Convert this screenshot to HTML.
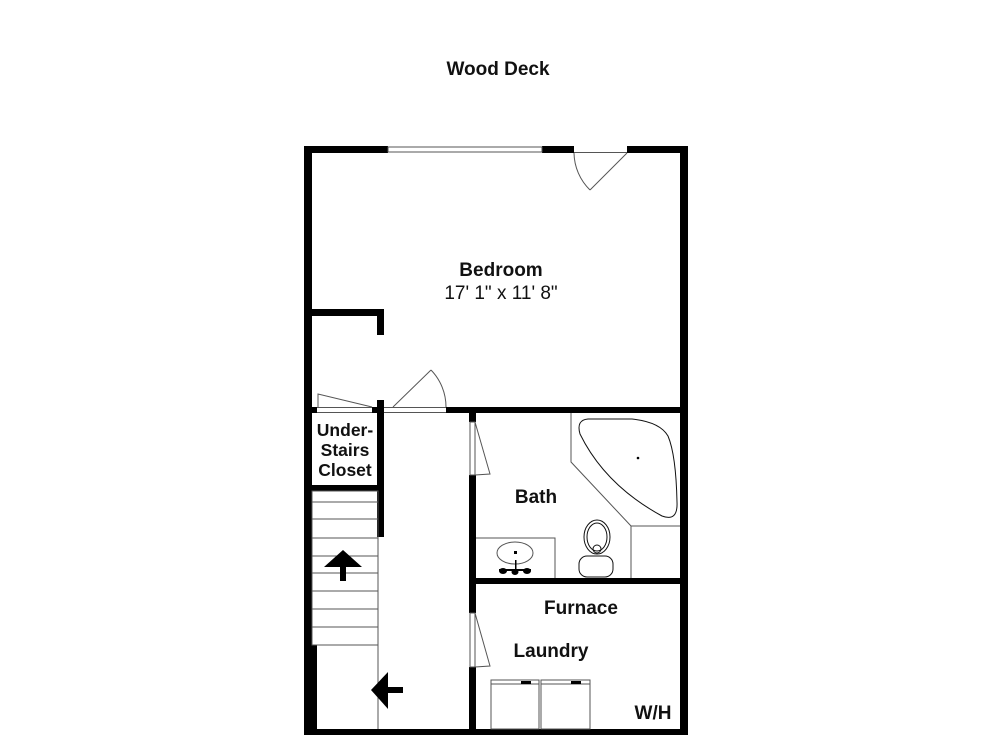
<!DOCTYPE html>
<html><head><meta charset="utf-8"><style>
html,body{margin:0;padding:0;background:#fff;}
svg{display:block;}
text{font-family:"Liberation Sans",Arial,sans-serif;fill:#111;}
.b{font-weight:bold;font-size:19px;}
</style></head><body>
<svg width="1000" height="750" viewBox="0 0 1000 750" xmlns="http://www.w3.org/2000/svg">
<rect width="1000" height="750" fill="#fff"/>
<text class="b" x="498" y="75" text-anchor="middle">Wood Deck</text>
<g fill="#000">
<rect x="304" y="146" width="8" height="589"/>
<rect x="680" y="146" width="8" height="589"/>
<rect x="304" y="729" width="384" height="6"/>
<rect x="304" y="146" width="84" height="7"/>
<rect x="542" y="146" width="32" height="7"/>
<rect x="627" y="146" width="61" height="7"/>
<rect x="312" y="309" width="72" height="7"/>
<rect x="377" y="309" width="7" height="26"/>
<rect x="304" y="407" width="13" height="6"/>
<rect x="372" y="407" width="12" height="6"/>
<rect x="377" y="400" width="7" height="137"/>
<rect x="446" y="407" width="242" height="6"/>
<rect x="312" y="485" width="72" height="6"/>
<rect x="304" y="645" width="13" height="90"/>
<rect x="469" y="407" width="7" height="15"/>
<rect x="469" y="475" width="7" height="138"/>
<rect x="469" y="667" width="7" height="68"/>
<rect x="476" y="578" width="212" height="6"/>
</g>
<g fill="none" stroke="#555" stroke-width="1">
<rect x="388" y="147" width="154" height="5"/>
<line x1="574" y1="152.5" x2="627" y2="152.5"/>
<line x1="627" y1="153" x2="590" y2="190"/>
<path d="M574 153 A53 53 0 0 0 590 190"/>
<line x1="317" y1="407.5" x2="372" y2="407.5"/>
<line x1="317" y1="412.5" x2="372" y2="412.5"/>
<path d="M372 407 L318 394 L318 407"/>
<line x1="384" y1="407.5" x2="446" y2="407.5"/>
<line x1="384" y1="412.5" x2="446" y2="412.5"/>
<line x1="393" y1="407" x2="431" y2="370"/>
<path d="M431 370 A53 53 0 0 1 446 407"/>
<rect x="470" y="422" width="5" height="53"/>
<path d="M475 422 L490 474 L475 475"/>
<rect x="470" y="613" width="5" height="54"/>
<path d="M475 613 L490 666 L475 667"/>
<rect x="312" y="491" width="66" height="154"/>
<line x1="312" y1="502" x2="378" y2="502"/>
<line x1="312" y1="519" x2="378" y2="519"/>
<line x1="312" y1="538" x2="378" y2="538"/>
<line x1="312" y1="556" x2="378" y2="556"/>
<line x1="312" y1="573" x2="378" y2="573"/>
<line x1="312" y1="591" x2="378" y2="591"/>
<line x1="312" y1="609" x2="378" y2="609"/>
<line x1="312" y1="627" x2="378" y2="627"/>
<line x1="378" y1="537" x2="378" y2="729"/>
<path d="M571 413 L571 462 L631 526 L680 526 M631 526 L631 578"/>
<path d="M588 419 Q576 420 580 434 Q605 485 662 516 Q678 522 677 502 Q676 455 668 436 Q660 422 632 419 Z" stroke="#111"/>
<path d="M476 538 L555 538 L555 578"/>
<ellipse cx="515" cy="553" rx="18" ry="11"/>
<ellipse cx="597" cy="537" rx="13" ry="17" stroke="#111"/>
<ellipse cx="597" cy="537" rx="10" ry="14" stroke="#111"/>
<circle cx="597" cy="549" r="4" stroke="#111"/>
<rect x="579" y="556" width="34" height="21" rx="8" stroke="#111"/>
<rect x="491" y="680" width="48" height="49"/>
<rect x="541" y="680" width="49" height="49"/>
<line x1="491" y1="684" x2="539" y2="684"/>
<line x1="541" y1="684" x2="590" y2="684"/>
</g>
<g fill="#000">
<circle cx="638" cy="458" r="1.3"/>
<rect x="514" y="551" width="3" height="3"/>
<rect x="515" y="560" width="1.5" height="10"/>
<path d="M499 569 L531 569 L531 571 L499 571 Z"/>
<ellipse cx="503" cy="571" rx="4" ry="3"/>
<ellipse cx="515" cy="572" rx="3.5" ry="3"/>
<ellipse cx="527" cy="571" rx="4" ry="3"/>
<rect x="521" y="681" width="10" height="3"/>
<rect x="571" y="681" width="10" height="3"/>
<path d="M343 550 L362 567 L346 567 L346 581 L340 581 L340 567 L324 567 Z"/>
<path d="M371 690 L388 672 L388 687 L403 687 L403 693 L388 693 L388 709 Z"/>
</g>
<text class="b" x="501" y="276" text-anchor="middle">Bedroom</text>
<text x="501" y="299" text-anchor="middle" style="font-size:19px">17' 1" x 11' 8"</text>
<text class="b" x="345" y="436" text-anchor="middle" style="font-size:17.5px">Under-</text>
<text class="b" x="345" y="456" text-anchor="middle" style="font-size:17.5px">Stairs</text>
<text class="b" x="345" y="476" text-anchor="middle" style="font-size:17.5px">Closet</text>
<text class="b" x="536" y="503" text-anchor="middle">Bath</text>
<text class="b" x="581" y="614" text-anchor="middle">Furnace</text>
<text class="b" x="551" y="657" text-anchor="middle">Laundry</text>
<text class="b" x="653" y="719" text-anchor="middle">W/H</text>
</svg>
</body></html>
